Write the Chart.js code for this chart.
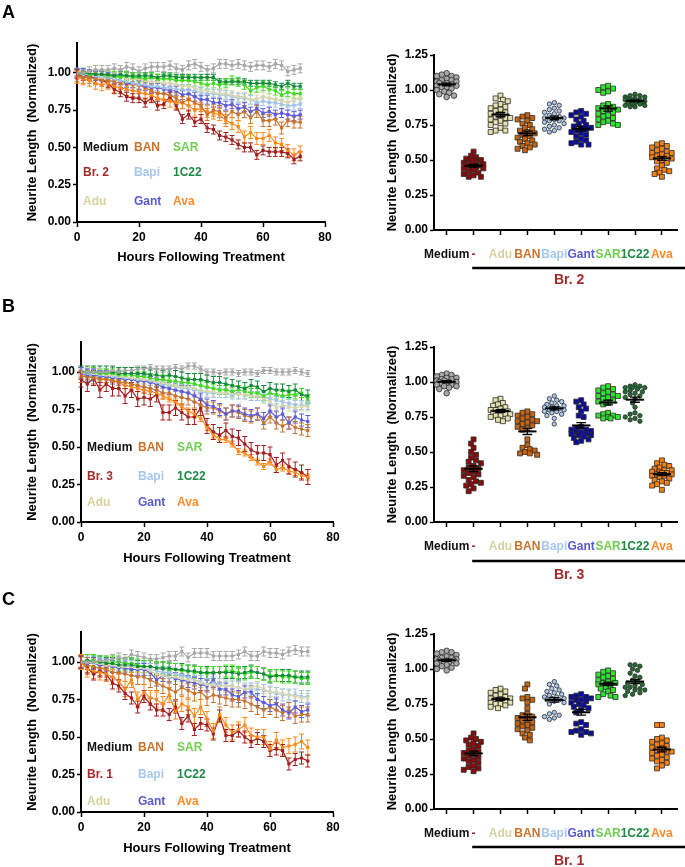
<!DOCTYPE html>
<html>
<head>
<meta charset="utf-8">
<script src="https://cdn.jsdelivr.net/npm/chart.js@4.4.1/dist/chart.umd.min.js"></script>
<style>
  html, body { margin: 0; padding: 0; background: #fff; }
  #fig { position: relative; width: 685px; height: 867px; overflow: hidden; font-family: "Liberation Sans", Arial, sans-serif; }
  #fig canvas { position: absolute; }
  .panel-label { position: absolute; font-weight: bold; font-size: 18px; line-height: 18px; color: #000; }
</style>
</head>
<body>
<div id="fig">
  <canvas id="line-a" width="360" height="290" style="left:0;top:0"></canvas>
  <canvas id="line-b" width="360" height="290" style="left:0;top:290px"></canvas>
  <canvas id="line-c" width="360" height="287" style="left:0;top:580px"></canvas>
  <canvas id="dots-a" width="345" height="290" style="left:340px;top:0"></canvas>
  <canvas id="dots-b" width="345" height="290" style="left:340px;top:290px"></canvas>
  <canvas id="dots-c" width="345" height="287" style="left:340px;top:580px"></canvas>
  <div class="panel-label" style="left:2px;top:3px">A</div>
  <div class="panel-label" style="left:2px;top:297px">B</div>
  <div class="panel-label" style="left:2px;top:590px">C</div>
</div>
<script>
// ---- data ----
const HOURS = [0,2,4,6,8,10,12,14,16,18,20,22,24,26,28,30,32,34,36,38,40,42,44,46,48,50,52,54,56,58,60,62,64,66,68,70,72];
const KEYS = ['Medium', 'Br', 'Adu', 'BAN', 'Bapi', 'Gant', 'SAR', '1C22', 'Ava'];
const Y_TICKS_LINE = [0, 0.25, 0.5, 0.75, 1.0];

// Panel A (Br. 2) time courses
const A_MEDIUM = [1.00,1.00,1.01,1.02,1.02,1.02,1.03,1.02,1.04,1.03,1.01,1.03,1.04,1.04,1.04,1.05,1.03,1.02,1.05,1.06,1.04,1.02,1.03,1.06,1.06,1.05,1.06,1.05,1.04,1.05,1.05,1.04,1.06,1.05,1.01,1.02,1.03];
const A_BR = [0.99,0.98,0.98,0.96,0.95,0.93,0.89,0.87,0.84,0.83,0.83,0.80,0.83,0.78,0.79,0.84,0.78,0.69,0.72,0.67,0.69,0.63,0.62,0.58,0.57,0.55,0.52,0.50,0.50,0.45,0.48,0.47,0.47,0.47,0.46,0.42,0.44];
const A_ADU = [1.00,1.00,0.99,0.99,0.98,0.98,0.97,0.97,0.96,0.96,0.96,0.95,0.94,0.94,0.93,0.93,0.92,0.91,0.91,0.90,0.88,0.88,0.87,0.86,0.86,0.85,0.84,0.84,0.82,0.82,0.84,0.83,0.82,0.81,0.80,0.82,0.83];
const A_BAN = [0.98,0.97,0.97,0.96,0.95,0.95,0.94,0.93,0.92,0.92,0.92,0.90,0.88,0.86,0.86,0.85,0.83,0.80,0.82,0.80,0.78,0.72,0.75,0.74,0.70,0.74,0.72,0.74,0.70,0.74,0.68,0.68,0.69,0.63,0.68,0.67,0.67];
const A_BAPI = [1.00,0.99,0.99,0.98,0.97,0.97,0.96,0.95,0.94,0.93,0.92,0.92,0.91,0.91,0.90,0.90,0.89,0.89,0.88,0.88,0.87,0.86,0.86,0.85,0.85,0.84,0.83,0.83,0.82,0.80,0.81,0.80,0.80,0.79,0.78,0.78,0.79];
const A_GANT = [1.00,1.00,0.99,0.98,0.98,0.97,0.96,0.95,0.93,0.93,0.92,0.91,0.90,0.90,0.89,0.88,0.88,0.85,0.86,0.84,0.82,0.82,0.80,0.80,0.78,0.79,0.76,0.77,0.74,0.76,0.73,0.74,0.72,0.73,0.72,0.71,0.72];
const A_SAR = [1.00,1.00,0.99,0.99,0.99,0.98,0.98,0.97,0.98,0.97,0.97,0.96,0.97,0.96,0.96,0.96,0.95,0.95,0.95,0.94,0.93,0.92,0.93,0.92,0.93,0.95,0.94,0.92,0.88,0.90,0.91,0.89,0.88,0.85,0.87,0.86,0.86];
const A_1C22 = [1.00,1.00,1.00,0.99,0.99,0.99,0.98,0.99,0.98,0.98,0.98,0.98,0.98,0.97,0.98,0.98,0.97,0.97,0.97,0.97,0.97,0.97,0.97,0.94,0.94,0.94,0.94,0.94,0.93,0.93,0.93,0.93,0.92,0.91,0.93,0.91,0.91];
const A_AVA = [0.97,0.96,0.95,0.93,0.92,0.93,0.91,0.90,0.89,0.88,0.87,0.86,0.85,0.83,0.82,0.81,0.80,0.80,0.78,0.75,0.76,0.74,0.73,0.72,0.68,0.66,0.64,0.57,0.60,0.56,0.56,0.58,0.53,0.52,0.48,0.45,0.47];
const A_ERR = [0.03,0.03,0.03,0.04,0.03,0.03,0.03,0.02,0.04];

// Panel B (Br. 3) time courses
const B_MEDIUM = [1.00,1.00,1.00,1.00,1.00,1.01,1.00,1.01,1.01,1.02,1.02,1.03,1.02,1.02,1.02,1.03,1.02,1.04,1.04,1.02,1.00,1.00,0.99,1.00,1.00,0.99,1.00,1.00,0.99,1.01,1.01,1.00,1.00,1.00,1.01,1.00,0.99];
const B_BR = [0.95,0.92,0.96,0.88,0.92,0.89,0.89,0.84,0.88,0.82,0.83,0.82,0.85,0.73,0.73,0.76,0.73,0.70,0.70,0.76,0.64,0.60,0.58,0.61,0.57,0.56,0.52,0.48,0.46,0.46,0.45,0.38,0.41,0.37,0.35,0.33,0.30];
const B_ADU = [1.00,1.00,0.99,0.99,0.98,0.98,0.97,0.97,0.96,0.96,0.95,0.95,0.94,0.93,0.92,0.91,0.90,0.90,0.89,0.88,0.87,0.87,0.86,0.86,0.86,0.85,0.85,0.84,0.84,0.82,0.80,0.76,0.78,0.77,0.76,0.77,0.77];
const B_BAN = [0.97,0.97,0.96,0.95,0.95,0.94,0.93,0.93,0.92,0.91,0.90,0.89,0.88,0.86,0.86,0.84,0.83,0.82,0.80,0.78,0.76,0.76,0.74,0.72,0.74,0.73,0.71,0.70,0.72,0.66,0.70,0.66,0.64,0.66,0.63,0.62,0.61];
const B_BAPI = [1.00,0.99,0.99,0.98,0.98,0.97,0.97,0.96,0.96,0.95,0.95,0.94,0.93,0.92,0.91,0.90,0.89,0.89,0.88,0.87,0.86,0.86,0.86,0.86,0.85,0.85,0.85,0.84,0.84,0.83,0.82,0.81,0.80,0.79,0.78,0.78,0.78];
const B_GANT = [0.99,0.98,0.98,0.97,0.97,0.96,0.96,0.95,0.95,0.94,0.94,0.93,0.92,0.90,0.89,0.88,0.87,0.86,0.84,0.82,0.78,0.77,0.75,0.72,0.74,0.74,0.72,0.71,0.72,0.69,0.74,0.70,0.72,0.66,0.70,0.68,0.67];
const B_SAR = [1.00,1.00,1.00,0.99,0.99,0.99,0.98,0.98,0.98,0.97,0.97,0.96,0.95,0.95,0.94,0.94,0.93,0.93,0.92,0.91,0.90,0.89,0.88,0.88,0.87,0.88,0.87,0.86,0.86,0.84,0.86,0.85,0.84,0.85,0.85,0.86,0.82];
const B_1C22 = [1.00,1.00,1.00,1.00,1.00,1.00,0.99,0.99,0.99,0.99,0.99,0.98,0.98,0.97,0.98,0.97,0.96,0.95,0.95,0.95,0.94,0.93,0.93,0.92,0.91,0.90,0.89,0.91,0.90,0.87,0.89,0.88,0.88,0.87,0.88,0.85,0.84];
const B_AVA = [0.98,0.97,0.97,0.96,0.95,0.95,0.93,0.91,0.90,0.89,0.88,0.87,0.86,0.84,0.82,0.80,0.77,0.74,0.72,0.69,0.63,0.58,0.55,0.55,0.52,0.47,0.46,0.43,0.40,0.37,0.40,0.35,0.36,0.34,0.33,0.31,0.30];
const B_ERR = [0.02,0.05,0.03,0.04,0.03,0.04,0.03,0.04,0.02];

// Panel C (Br. 1) time courses
const C_MEDIUM = [1.00,1.00,1.00,1.01,1.01,1.02,1.03,1.02,1.05,1.04,1.03,1.02,1.02,1.03,1.04,1.04,1.07,1.03,1.06,1.06,1.06,1.04,1.04,1.04,1.04,1.05,1.07,1.04,1.04,1.07,1.06,1.06,1.05,1.07,1.08,1.07,1.07];
const C_BR = [1.00,0.96,0.92,0.94,0.92,0.86,0.84,0.79,0.76,0.70,0.77,0.72,0.68,0.68,0.65,0.70,0.59,0.64,0.55,0.59,0.58,0.52,0.64,0.51,0.51,0.54,0.50,0.47,0.49,0.47,0.41,0.42,0.41,0.32,0.35,0.36,0.34];
const C_ADU = [1.00,1.00,0.99,0.99,0.98,0.98,0.97,0.97,0.97,0.96,0.96,0.94,0.92,0.91,0.90,0.90,0.89,0.88,0.88,0.86,0.85,0.85,0.84,0.84,0.84,0.83,0.82,0.83,0.84,0.82,0.80,0.80,0.79,0.78,0.77,0.76,0.76];
const C_BAN = [1.00,0.98,0.97,0.96,0.95,0.93,0.93,0.92,0.91,0.90,0.90,0.88,0.86,0.84,0.82,0.80,0.83,0.81,0.79,0.80,0.76,0.78,0.77,0.76,0.75,0.75,0.74,0.72,0.70,0.68,0.70,0.68,0.66,0.68,0.64,0.65,0.65];
const C_BAPI = [1.00,1.00,0.99,0.99,0.98,0.98,0.97,0.97,0.97,0.96,0.96,0.95,0.94,0.93,0.93,0.92,0.91,0.90,0.88,0.87,0.85,0.86,0.85,0.84,0.84,0.83,0.82,0.82,0.82,0.81,0.80,0.79,0.78,0.78,0.78,0.77,0.77];
const C_GANT = [1.00,0.99,0.99,0.98,0.98,0.97,0.96,0.96,0.95,0.95,0.95,0.93,0.88,0.91,0.90,0.89,0.88,0.87,0.86,0.85,0.84,0.88,0.82,0.82,0.78,0.77,0.80,0.80,0.75,0.73,0.71,0.72,0.68,0.66,0.70,0.67,0.68];
const C_SAR = [1.00,1.01,1.01,1.00,1.00,1.00,1.00,0.99,0.99,0.98,0.97,0.97,0.96,0.96,0.95,0.95,0.94,0.94,0.93,0.93,0.92,0.93,0.93,0.94,0.94,0.93,0.92,0.93,0.93,0.92,0.91,0.91,0.90,0.90,0.90,0.89,0.89];
const C_1C22 = [1.00,1.01,1.00,1.00,0.99,0.99,0.98,0.98,0.98,0.97,0.97,0.97,0.96,0.96,0.96,0.95,0.95,0.94,0.94,0.93,0.93,0.93,0.93,0.93,0.93,0.92,0.93,0.94,0.93,0.92,0.90,0.91,0.91,0.91,0.90,0.90,0.90];
const C_AVA = [1.00,0.95,0.94,0.93,0.92,0.90,0.87,0.82,0.88,0.75,0.80,0.76,0.75,0.72,0.78,0.67,0.72,0.70,0.64,0.70,0.62,0.54,0.65,0.58,0.53,0.55,0.58,0.51,0.50,0.50,0.42,0.48,0.43,0.44,0.45,0.47,0.43];
const C_ERR = [0.03,0.04,0.03,0.05,0.04,0.04,0.04,0.04,0.05];

// Per-well values (dot plots)
const DOT_A_MEDIUM = [1.12,1.11,1.10,1.09,1.08,1.07,1.07,1.06,1.05,1.05,1.04,1.04,1.03,1.03,1.02,1.02,1.01,1.00,0.99,0.98,0.97,0.96,0.95,1.10,1.06];
const DOT_A_BR = [0.56,0.53,0.52,0.51,0.50,0.49,0.48,0.48,0.47,0.47,0.46,0.46,0.45,0.45,0.44,0.44,0.43,0.42,0.41,0.40,0.39,0.38,0.38,0.50];
const DOT_A_ADU = [0.96,0.94,0.93,0.92,0.90,0.89,0.88,0.87,0.86,0.85,0.84,0.83,0.82,0.81,0.80,0.80,0.79,0.78,0.77,0.76,0.75,0.73,0.71,0.71,0.70];
const DOT_A_BAN = [0.82,0.81,0.80,0.79,0.78,0.76,0.75,0.73,0.72,0.71,0.70,0.69,0.68,0.67,0.66,0.65,0.64,0.63,0.62,0.61,0.60,0.59,0.58,0.57];
const DOT_A_BAPI = [0.91,0.90,0.89,0.87,0.86,0.85,0.84,0.83,0.82,0.81,0.80,0.80,0.79,0.78,0.78,0.77,0.76,0.75,0.74,0.73,0.72,0.71,0.70];
const DOT_A_GANT = [0.85,0.84,0.83,0.82,0.81,0.79,0.78,0.76,0.75,0.74,0.73,0.73,0.72,0.71,0.70,0.69,0.68,0.67,0.65,0.64,0.63,0.62,0.61,0.61];
const DOT_A_SAR = [1.03,1.02,1.01,1.00,0.99,0.98,0.90,0.89,0.88,0.87,0.86,0.85,0.84,0.83,0.82,0.81,0.80,0.79,0.78,0.77,0.76,0.75,0.75,0.86];
const DOT_A_1C22 = [0.97,0.96,0.96,0.95,0.95,0.94,0.94,0.93,0.93,0.93,0.92,0.92,0.92,0.91,0.91,0.91,0.90,0.90,0.89,0.89,0.88,0.88];
const DOT_A_AVA = [0.62,0.61,0.60,0.59,0.58,0.57,0.56,0.55,0.55,0.54,0.53,0.53,0.52,0.51,0.50,0.49,0.48,0.46,0.44,0.43,0.42,0.41,0.40,0.38];

const DOT_B_MEDIUM = [1.06,1.05,1.05,1.04,1.03,1.03,1.02,1.02,1.01,1.01,1.00,1.00,1.00,0.99,0.99,0.98,0.98,0.97,0.97,0.96,0.95,0.92];
const DOT_B_BR = [0.59,0.56,0.53,0.50,0.48,0.46,0.44,0.43,0.42,0.40,0.39,0.38,0.37,0.36,0.35,0.34,0.33,0.32,0.30,0.29,0.28,0.27,0.26,0.24,0.22];
const DOT_B_ADU = [0.88,0.87,0.85,0.84,0.83,0.82,0.81,0.80,0.80,0.79,0.79,0.78,0.78,0.77,0.77,0.76,0.76,0.75,0.74,0.73,0.72];
const DOT_B_BAN = [0.79,0.78,0.77,0.76,0.75,0.74,0.73,0.72,0.72,0.71,0.70,0.69,0.68,0.67,0.66,0.59,0.55,0.53,0.52,0.51,0.50,0.49,0.48,0.49];
const DOT_B_BAPI = [0.90,0.88,0.87,0.86,0.85,0.84,0.83,0.83,0.82,0.82,0.81,0.81,0.80,0.80,0.79,0.79,0.78,0.77,0.76,0.74,0.70];
const DOT_B_GANT = [0.87,0.86,0.84,0.82,0.81,0.79,0.76,0.75,0.68,0.67,0.66,0.65,0.64,0.64,0.63,0.62,0.62,0.61,0.60,0.59,0.58,0.57,0.66,0.63];
const DOT_B_SAR = [0.97,0.96,0.95,0.94,0.93,0.92,0.91,0.90,0.89,0.88,0.87,0.86,0.85,0.84,0.78,0.77,0.76,0.76,0.75,0.75,0.74,0.74,0.90];
const DOT_B_1C22 = [0.98,0.97,0.97,0.96,0.96,0.95,0.94,0.93,0.92,0.91,0.90,0.89,0.88,0.85,0.82,0.78,0.77,0.76,0.75,0.74,0.73,0.72,0.96,0.93];
const DOT_B_AVA = [0.44,0.42,0.41,0.40,0.39,0.38,0.37,0.37,0.36,0.36,0.35,0.35,0.34,0.34,0.33,0.33,0.32,0.31,0.30,0.29,0.28,0.27,0.26,0.23];

const DOT_C_MEDIUM = [1.13,1.12,1.12,1.11,1.10,1.09,1.08,1.07,1.07,1.06,1.06,1.05,1.05,1.04,1.04,1.03,1.02,1.01,1.00,0.99,1.08,1.06];
const DOT_C_BR = [0.54,0.51,0.50,0.49,0.48,0.47,0.46,0.45,0.43,0.42,0.41,0.40,0.39,0.38,0.37,0.36,0.35,0.34,0.33,0.31,0.30,0.29,0.28,0.27];
const DOT_C_ADU = [0.86,0.85,0.84,0.83,0.82,0.81,0.80,0.79,0.79,0.78,0.78,0.77,0.77,0.76,0.76,0.75,0.75,0.74,0.73,0.72];
const DOT_C_BAN = [0.89,0.86,0.80,0.79,0.78,0.76,0.72,0.68,0.66,0.65,0.64,0.63,0.62,0.61,0.60,0.58,0.57,0.56,0.54,0.53,0.51,0.49,0.59,0.67];
const DOT_C_BAPI = [0.91,0.89,0.88,0.86,0.85,0.84,0.83,0.82,0.81,0.80,0.80,0.79,0.79,0.78,0.78,0.77,0.76,0.75,0.69,0.68,0.67,0.66,0.65,0.64];
const DOT_C_GANT = [0.82,0.81,0.80,0.80,0.79,0.78,0.77,0.76,0.75,0.74,0.73,0.72,0.71,0.69,0.62,0.61,0.60,0.57,0.56,0.55,0.55,0.54,0.53,0.78];
const DOT_C_SAR = [0.99,0.98,0.97,0.96,0.95,0.94,0.93,0.92,0.91,0.90,0.90,0.89,0.88,0.87,0.86,0.85,0.84,0.82,0.81,0.80,0.80];
const DOT_C_1C22 = [1.03,1.03,1.02,1.00,0.99,0.97,0.95,0.94,0.92,0.91,0.90,0.89,0.88,0.87,0.86,0.85,0.84,0.83,0.82,0.81,0.85,0.87];
const DOT_C_AVA = [0.60,0.60,0.51,0.50,0.49,0.48,0.47,0.46,0.45,0.44,0.43,0.42,0.41,0.41,0.40,0.39,0.38,0.37,0.36,0.35,0.34,0.33,0.31,0.29];

// ---- styles ----
const LINE_COLORS = { Medium: '#a8a8a8', Br: '#a31f1f', Adu: '#d9d6a8', BAN: '#c8732e', Bapi: '#9fc5ee', Gant: '#5c5ce0', SAR: '#3ddc1e', '1C22': '#148a3c', Ava: '#ff8a1a' };
const TEXT_COLORS = { Medium: '#111111', Br: '#a52a2a', Adu: '#d6d2a0', BAN: '#c8732e', Bapi: '#a5c8ef', Gant: '#5a5ad0', SAR: '#6fcf4f', '1C22': '#1e8a46', Ava: '#ff8a2a' };
const DOT_FILL = { Medium: '#a8a8a8', Br: '#8b0a0a', Adu: '#e6e2b0', BAN: '#c8640c', Bapi: '#a8c8ee', Gant: '#0c0ca0', SAR: '#2ee62e', '1C22': '#1f6e2e', Ava: '#f5820f' };
const DOT_SHAPE = { Medium: ['circle', 2.8], Br: ['rect', 3.5], Adu: ['rect', 3.5], BAN: ['rect', 3.5], Bapi: ['circle', 2.2], Gant: ['rect', 3.5], SAR: ['rect', 3.5], '1C22': ['circle', 2.2], Ava: ['rect', 3.5] };
const DRAW_ORDER = ['Medium', '1C22', 'SAR', 'Adu', 'Bapi', 'Gant', 'BAN', 'Ava', 'Br'];
const FONT = '"Liberation Sans", Arial, sans-serif';

Chart.defaults.font.family = FONT;
Chart.defaults.font.weight = 'bold';
Chart.defaults.font.size = 12;
Chart.defaults.color = '#000';
Chart.defaults.animation = false;

// error bars under each line point
const errorBars = {
  id: 'errorBars',
  beforeDatasetsDraw(chart) {
    const { ctx, scales: { x, y } } = chart;
    chart.data.datasets.forEach(ds => {
      ctx.save();
      ctx.strokeStyle = ds.borderColor;
      ctx.lineWidth = 1;
      ds.data.forEach(p => {
        const px = x.getPixelForValue(p.x);
        const top = y.getPixelForValue(p.y + ds.err);
        const bot = y.getPixelForValue(p.y - ds.err);
        ctx.beginPath();
        ctx.moveTo(px, top); ctx.lineTo(px, bot);
        ctx.moveTo(px - 2.5, top); ctx.lineTo(px + 2.5, top);
        ctx.moveTo(px - 2.5, bot); ctx.lineTo(px + 2.5, bot);
        ctx.stroke();
      });
      ctx.restore();
    });
  }
};

// coloured labels written inside the plot area
const inlineLegend = {
  id: 'inlineLegend',
  afterDatasetsDraw(chart, args, opts) {
    const { ctx, chartArea } = chart;
    ctx.save();
    ctx.font = 'bold 12px ' + FONT;
    ctx.textBaseline = 'middle';
    ctx.textAlign = 'left';
    opts.items.forEach(it => {
      ctx.fillStyle = it.color;
      ctx.fillText(it.text, chartArea.left + it.dx, chartArea.bottom - it.dy);
    });
    ctx.restore();
  }
};

function makeLineChart(id, series, errs, brText, lay) {
  const datasets = DRAW_ORDER.map(k => {
    const i = KEYS.indexOf(k);
    return {
      label: k,
      data: HOURS.map((h, j) => ({ x: h, y: series[k][j] })),
      err: errs[i],
      borderColor: LINE_COLORS[k],
      backgroundColor: LINE_COLORS[k],
      borderWidth: 1.2,
      pointStyle: 'rect',
      pointRadius: 1.4,
      tension: 0
    };
  });
  const cols = [6, 57, 96];
  const grid = [['Medium', 'BAN', 'SAR'], ['Br', 'Bapi', '1C22'], ['Adu', 'Gant', 'Ava']];
  const items = [];
  grid.forEach((row, r) => row.forEach((k, c) => {
    items.push({ text: k === 'Br' ? brText : k, color: TEXT_COLORS[k], dx: cols[c], dy: lay.rows[r] });
  }));
  const canvas = document.getElementById(id);
  return new Chart(canvas, {
    type: 'line',
    data: { datasets },
    plugins: [errorBars, inlineLegend],
    options: {
      responsive: false,
      layout: { padding: { left: 0, top: lay.top, right: canvas.width - lay.right, bottom: 0 } },
      plugins: { legend: { display: false }, tooltip: { enabled: false }, inlineLegend: { items } },
      scales: {
        x: {
          type: 'linear', min: 0, max: 80,
          border: { color: '#000', width: 2 },
          grid: { drawOnChartArea: false, tickLength: 5, tickColor: '#000', tickWidth: 1.5 },
          ticks: { stepSize: 20, padding: 3, font: { size: 12, weight: 'bold' } },
          title: { display: true, text: 'Hours Following Treatment', font: { size: 13, weight: 'bold' }, padding: { top: 0, bottom: lay.xTitlePad } },
          afterFit(scale) { scale.height = canvas.height - lay.bottom; }
        },
        y: {
          type: 'linear', min: 0, max: 1.2,
          border: { color: '#000', width: 2 },
          grid: { drawOnChartArea: false, tickLength: 4, tickColor: '#000', tickWidth: 1.5 },
          ticks: { padding: 2, callback: v => v.toFixed(2), font: { size: 12, weight: 'bold' } },
          afterBuildTicks(scale) { scale.ticks = Y_TICKS_LINE.map(v => ({ value: v })); },
          title: { display: true, text: 'Neurite Length  (Normalized)', font: { size: 13, weight: 'bold' }, padding: { top: 25, bottom: 0 } },
          afterFit(scale) { scale.width = lay.left; }
        }
      }
    }
  });
}

// beeswarm layout of the dots around each category, kept within a narrow band
const PX_PER_X = 27.5, PX_PER_Y = 140, MIN_GAP = 4.6;
const SWARM_SLOTS = [0, -2.5, 2.5, -5, 5, -7.5, 7.5, -10, 10];
function swarm(values, center) {
  const placed = [];
  return values.slice().sort((a, b) => b - a).map(v => {
    const py = v * PX_PER_Y;
    let best = 0, bestD = -1;
    for (const cand of SWARM_SLOTS) {
      const d = placed.reduce((m, p) => Math.min(m, Math.hypot(p.px - cand, p.py - py)), Infinity);
      if (d >= MIN_GAP) { best = cand; break; }
      if (d > bestD) { bestD = d; best = cand; }
    }
    placed.push({ px: best, py });
    return { x: center + best / PX_PER_X, y: v };
  });
}

// mean line with SEM bar for each group
const meanSem = {
  id: 'meanSem',
  afterDatasetsDraw(chart) {
    const { ctx, scales: { x, y } } = chart;
    ctx.save();
    ctx.strokeStyle = '#000';
    chart.data.datasets.forEach(ds => {
      const vals = ds.values, n = vals.length;
      const mean = vals.reduce((a, b) => a + b, 0) / n;
      const sd = Math.sqrt(vals.reduce((a, b) => a + (b - mean) * (b - mean), 0) / (n - 1));
      const sem = sd / Math.sqrt(n);
      const ym = y.getPixelForValue(mean), yt = y.getPixelForValue(mean + sem), yb = y.getPixelForValue(mean - sem);
      ctx.lineWidth = 2;
      ctx.beginPath();
      ctx.moveTo(x.getPixelForValue(ds.cat - 0.34), ym);
      ctx.lineTo(x.getPixelForValue(ds.cat + 0.34), ym);
      ctx.stroke();
      ctx.lineWidth = 1.3;
      const l = x.getPixelForValue(ds.cat - 0.18), r = x.getPixelForValue(ds.cat + 0.18), c = x.getPixelForValue(ds.cat);
      ctx.beginPath();
      ctx.moveTo(c, yt); ctx.lineTo(c, yb);
      ctx.moveTo(l, yt); ctx.lineTo(r, yt);
      ctx.moveTo(l, yb); ctx.lineTo(r, yb);
      ctx.stroke();
    });
    ctx.restore();
  }
};

// bar under the treated groups with the brain label
const bracket = {
  id: 'bracket',
  afterDraw(chart, args, opts) {
    const { ctx, chartArea, scales: { x } } = chart;
    const yLine = chartArea.bottom + opts.lineDy;
    ctx.save();
    ctx.strokeStyle = '#000';
    ctx.lineWidth = 2.5;
    ctx.beginPath();
    ctx.moveTo(x.getPixelForValue(0.95), yLine);
    ctx.lineTo(chart.width, yLine);
    ctx.stroke();
    ctx.fillStyle = '#a52a2a';
    ctx.font = 'bold 14px ' + FONT;
    ctx.textAlign = 'center';
    ctx.textBaseline = 'middle';
    ctx.fillText(opts.text, x.getPixelForValue(4.55), chartArea.bottom + opts.textDy);
    ctx.restore();
  }
};

const CAT_LABELS = ['Medium', '-', 'Adu', 'BAN', 'Bapi', 'Gant', 'SAR', '1C22', 'Ava'];

function makeDotChart(id, groups, brText, lay) {
  const datasets = KEYS.map((k, i) => ({
    label: k,
    cat: i,
    values: groups[k],
    data: swarm(groups[k], i),
    pointStyle: DOT_SHAPE[k][0],
    pointRadius: DOT_SHAPE[k][1],
    backgroundColor: DOT_FILL[k],
    borderColor: '#2a2a2a',
    borderWidth: 0.8
  }));
  const canvas = document.getElementById(id);
  return new Chart(canvas, {
    type: 'scatter',
    data: { datasets },
    plugins: [meanSem, bracket],
    options: {
      responsive: false,
      layout: { padding: { left: 0, top: lay.top, right: 2, bottom: 0 } },
      plugins: { legend: { display: false }, tooltip: { enabled: false }, bracket: { text: brText, lineDy: lay.lineDy, textDy: lay.textDy } },
      scales: {
        x: {
          type: 'linear', min: -0.47, max: 8.58,
          border: { color: '#000', width: 2 },
          grid: { drawOnChartArea: false, tickLength: 5, tickColor: '#000', tickWidth: 1.5 },
          afterBuildTicks(scale) { scale.ticks = CAT_LABELS.map((c, i) => ({ value: i })); },
          ticks: {
            autoSkip: false, maxRotation: 0, minRotation: 0, padding: 12,
            callback: (v, i) => CAT_LABELS[i],
            color: c => TEXT_COLORS[KEYS[c.index]],
            font: { size: 12, weight: 'bold' }
          },
          afterFit(scale) { scale.height = canvas.height - lay.bottom; }
        },
        y: {
          type: 'linear', min: 0, max: 1.25,
          border: { color: '#000', width: 2 },
          grid: { drawOnChartArea: false, tickLength: 4, tickColor: '#000', tickWidth: 1.5 },
          ticks: { stepSize: 0.25, padding: 2, callback: v => v.toFixed(2), font: { size: 12, weight: 'bold' } },
          title: { display: true, text: 'Neurite Length  (Normalized)', font: { size: 13, weight: 'bold' }, padding: { top: 45, bottom: 0 } },
          afterFit(scale) { scale.width = 94; }
        }
      }
    }
  });
}

makeLineChart('line-a',
  { Medium: A_MEDIUM, Br: A_BR, Adu: A_ADU, BAN: A_BAN, Bapi: A_BAPI, Gant: A_GANT, SAR: A_SAR, '1C22': A_1C22, Ava: A_AVA },
  A_ERR, 'Br. 2', { left: 77, right: 325, top: 43, bottom: 222, xTitlePad: 25, rows: [74, 49, 20] });
makeLineChart('line-b',
  { Medium: B_MEDIUM, Br: B_BR, Adu: B_ADU, BAN: B_BAN, Bapi: B_BAPI, Gant: B_GANT, SAR: B_SAR, '1C22': B_1C22, Ava: B_AVA },
  B_ERR, 'Br. 3', { left: 81, right: 333, top: 52, bottom: 232, xTitlePad: 14, rows: [74, 45, 19] });
makeLineChart('line-c',
  { Medium: C_MEDIUM, Br: C_BR, Adu: C_ADU, BAN: C_BAN, Bapi: C_BAPI, Gant: C_GANT, SAR: C_SAR, '1C22': C_1C22, Ava: C_AVA },
  C_ERR, 'Br. 1', { left: 81, right: 333, top: 52, bottom: 232, xTitlePad: 11, rows: [64, 37, 10] });

makeDotChart('dots-a',
  { Medium: DOT_A_MEDIUM, Br: DOT_A_BR, Adu: DOT_A_ADU, BAN: DOT_A_BAN, Bapi: DOT_A_BAPI, Gant: DOT_A_GANT, SAR: DOT_A_SAR, '1C22': DOT_A_1C22, Ava: DOT_A_AVA },
  'Br. 2', { top: 55, bottom: 230, lineDy: 38, textDy: 50 });
makeDotChart('dots-b',
  { Medium: DOT_B_MEDIUM, Br: DOT_B_BR, Adu: DOT_B_ADU, BAN: DOT_B_BAN, Bapi: DOT_B_BAPI, Gant: DOT_B_GANT, SAR: DOT_B_SAR, '1C22': DOT_B_1C22, Ava: DOT_B_AVA },
  'Br. 3', { top: 57, bottom: 232, lineDy: 39, textDy: 53 });
makeDotChart('dots-c',
  { Medium: DOT_C_MEDIUM, Br: DOT_C_BR, Adu: DOT_C_ADU, BAN: DOT_C_BAN, Bapi: DOT_C_BAPI, Gant: DOT_C_GANT, SAR: DOT_C_SAR, '1C22': DOT_C_1C22, Ava: DOT_C_AVA },
  'Br. 1', { top: 54, bottom: 229, lineDy: 38, textDy: 52 });
</script>
</body>
</html>
